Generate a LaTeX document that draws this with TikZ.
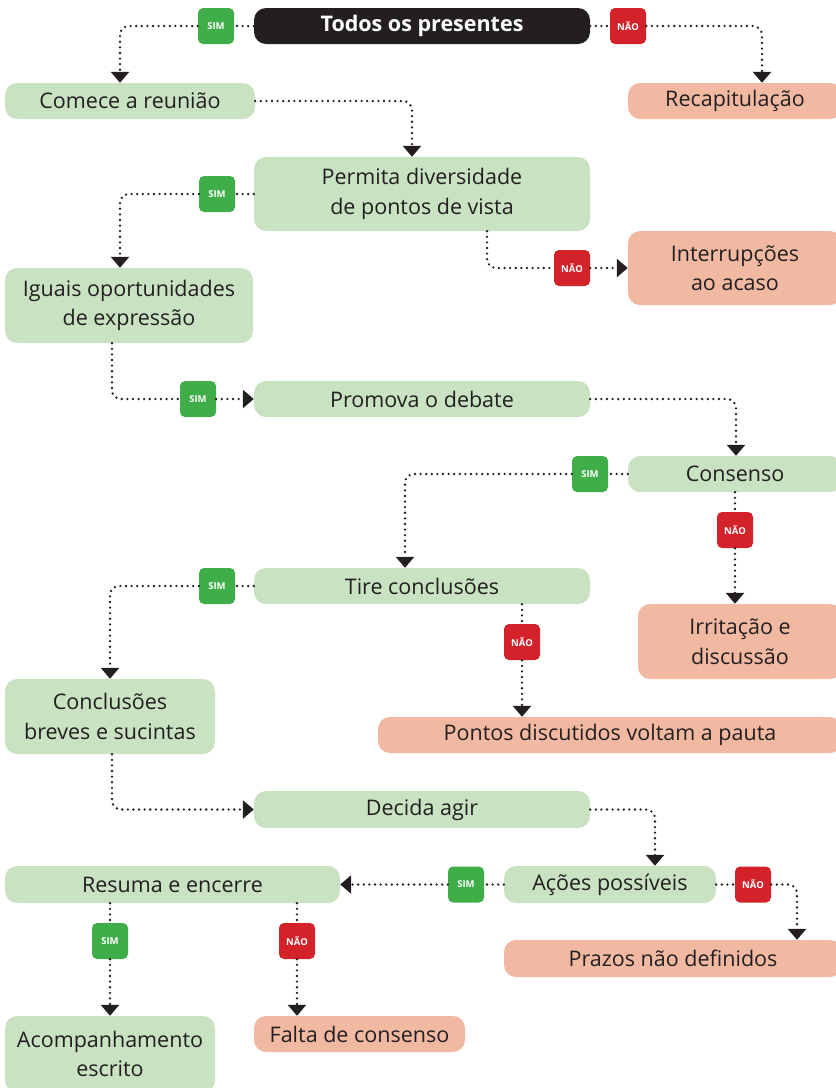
\documentclass[tikz,border=0pt]{standalone}
\usepackage{fontspec}
\setmainfont{Open Sans}
\usetikzlibrary{positioning, arrows.meta}

\definecolor{boxgreen}{HTML}{C8E2C2}
\definecolor{boxred}{HTML}{F2B9A2}
\definecolor{simgreen}{HTML}{3FAE49}
\definecolor{naored}{HTML}{D3222A}
\definecolor{ink}{HTML}{231F20}

\tikzset{
  okbox/.style={rectangle, rounded corners=12pt, fill=boxgreen, text=ink,
    align=center, inner sep=0pt, minimum height=36pt,
    font=\fontsize{21.5}{29.5}\selectfont},
  badbox/.style={okbox, fill=boxred},
  topbox/.style={okbox, fill=ink, text=white, font=\fontsize{21.5}{26}\selectfont\bfseries},
  simbadge/.style={rectangle, rounded corners=5pt, fill=simgreen, text=white,
    minimum width=36pt, minimum height=36pt, inner sep=0pt,
    font=\fontsize{9.5}{11}\selectfont\bfseries},
  naobadge/.style={simbadge, fill=naored},
  dots/.style={draw=ink, line width=2.6pt, line cap=round,
    dash pattern=on 0pt off 5.6pt, rounded corners=9pt},
  flow/.style={dots, -{Triangle[width=18pt,length=11pt]}}
}

\begin{document}
\begin{tikzpicture}[x=1pt, y=-1pt]
    \useasboundingbox (0,0) rectangle (836,1088);

    % caixas
    \node[topbox, minimum width=336pt] (todos) at (422,26) {Todos os presentes};
    \node[okbox, minimum width=250pt] (comece) at (130,101) {Comece a reunião};
    \node[badbox, minimum width=214pt] (recap) at (735,101) {Recapitulação};
    \node[okbox, minimum width=336pt, minimum height=74pt] (permita) at (422,194) {Permita diversidade\\de pontos de vista};
    \node[badbox, minimum width=214pt, minimum height=74pt] (interr) at (735,268) {Interrupções\\ao acaso};
    \node[okbox, minimum width=248pt, minimum height=75pt] (iguais) at (129,305.5) {Iguais oportunidades\\de expressão};
    \node[okbox, minimum width=336pt] (promova) at (422,399) {Promova o debate};
    \node[okbox, minimum width=214pt] (consenso) at (735,474) {Consenso};
    \node[badbox, minimum width=204pt, minimum height=75pt] (irrit) at (740,641.5) {Irritação e\\discussão};
    \node[okbox, minimum width=336pt] (tire) at (422,586) {Tire conclusões};
    \node[okbox, minimum width=210pt, minimum height=75pt] (concl) at (110,716.5) {Conclusões\\breves e sucintas};
    \node[badbox, minimum width=464pt] (pontos) at (610,735) {Pontos discutidos voltam a pauta};
    \node[okbox, minimum width=336pt, minimum height=37pt] (decida) at (422,809.5) {Decida agir};
    \node[okbox, minimum width=335pt, minimum height=37pt] (resuma) at (172.5,884.5) {Resuma e encerre};
    \node[okbox, minimum width=212pt, minimum height=37pt] (acoes) at (610,884.5) {Ações possíveis};
    \node[badbox, minimum width=338pt, minimum height=37pt] (prazos) at (673,958.5) {Prazos não definidos};
    \node[okbox, minimum width=210pt, minimum height=76pt] (acomp) at (110,1054) {Acompanhamento\\escrito};
    \node[badbox, minimum width=211pt] (falta) at (359.5,1034) {Falta de consenso};

    % sim / nao
    \node[simbadge] (sim1) at (216,26) {SIM};
    \node[naobadge] (nao1) at (628,26) {NÃO};
    \node[simbadge] (sim2) at (217,194) {SIM};
    \node[naobadge] (nao2) at (572,268) {NÃO};
    \node[simbadge] (sim3) at (198,399) {SIM};
    \node[simbadge] (sim4) at (590,474) {SIM};
    \node[naobadge] (nao3) at (735,530) {NÃO};
    \node[simbadge] (sim5) at (217,586) {SIM};
    \node[naobadge] (nao4) at (522,642) {NÃO};
    \node[simbadge] (sim6) at (466,884.5) {SIM};
    \node[naobadge] (nao5) at (753,884.5) {NÃO};
    \node[simbadge] (sim7) at (110,941) {SIM};
    \node[naobadge] (nao6) at (297,941) {NÃO};

    % ligacoes
    \draw[flow] (todos) -- (sim1) -| ([xshift=-10pt]comece.north);
    \draw[flow] (todos) -- (nao1) -| ([xshift=27pt]recap.north);
    \draw[flow] (comece) -| ([xshift=-10pt]permita.north);
    \draw[flow] (permita) -- (sim2) -| ([xshift=-9pt]iguais.north);
    \draw[dots] ([xshift=65pt]permita.south) |- (nao2);
        \draw[flow] (nao2) -- (nao2 -| interr.west);
    \draw[dots] ([xshift=-17pt]iguais.south) |- (sim3);
        \draw[flow] (sim3) -- (promova);
    \draw[flow] (promova) -| ([xshift=1pt]consenso.north);
    \draw[flow] (consenso) -- (sim4) -| ([xshift=-17pt]tire.north);
    \draw[dots] (nao3 |- consenso.south) -- (nao3);
        \draw[flow] (nao3) -- (nao3 |- irrit.north);
    \draw[flow] (tire) -- (sim5) -| (concl.north);
    \draw[dots] (nao4 |- tire.south) -- (nao4);
        \draw[flow] (nao4) -- (nao4 |- pontos.north);
    \draw[flow] ([xshift=2pt]concl.south) |- (decida);
    \draw[flow] (decida) -| ([xshift=45pt]acoes.north);
    \draw[dots] (acoes) -- (sim6);
        \draw[flow] (sim6) -- (resuma);
    \draw[flow] (acoes) -- (nao5) -| ([xshift=124pt]prazos.north);
    \draw[dots] (sim7 |- resuma.south) -- (sim7);
        \draw[flow] (sim7) -- (sim7 |- acomp.north);
    \draw[dots] (nao6 |- resuma.south) -- (nao6);
        \draw[flow] (nao6) -- (nao6 |- falta.north);
\end{tikzpicture}
\end{document}
